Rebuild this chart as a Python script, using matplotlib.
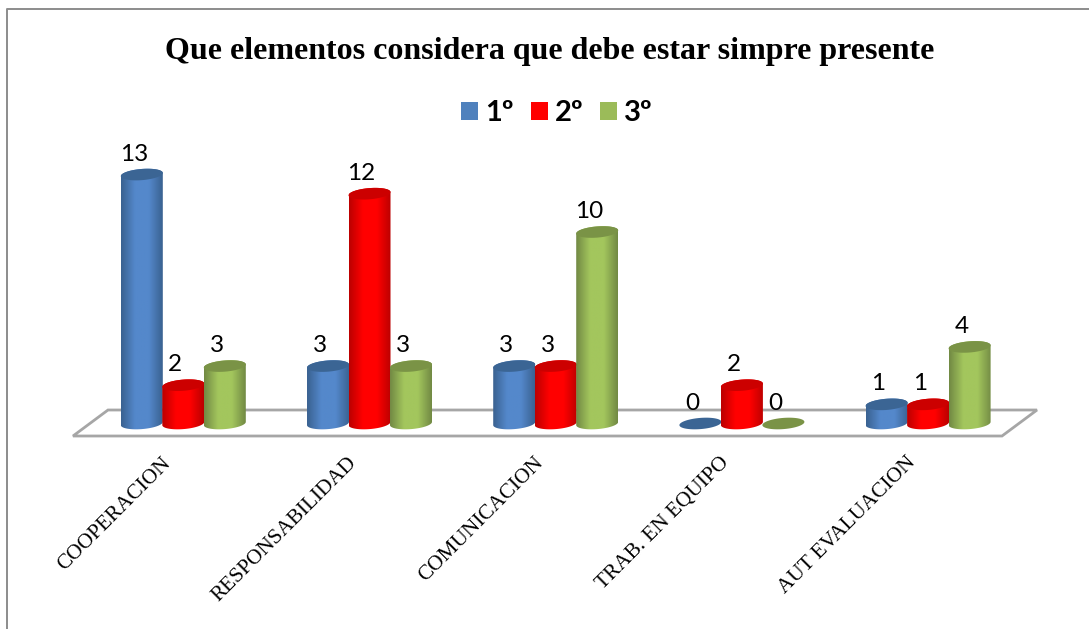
import numpy as np
import matplotlib
matplotlib.use("Agg")
import matplotlib.pyplot as plt
from matplotlib.patches import Patch, PathPatch, Polygon
from matplotlib.path import Path
from matplotlib.colors import LinearSegmentedColormap
from matplotlib.transforms import Affine2D

title = "Que elementos considera que debe estar simpre presente"
categories = ["COOPERACION", "RESPONSABILIDAD", "COMUNICACION", "TRAB. EN EQUIPO", "AUT EVALUACION"]
series_names = ["1º", "2º", "3º"]
first = [13, 3, 3, 0, 1]
second = [2, 12, 3, 2, 1]
third = [3, 3, 10, 0, 4]

W, H = 1089, 629
PX_X, PX_Y = 186.2, 19.15     # pixels per category / per unit
X0, Y0 = 183.3, 423.5         # pixel of category 0 / value 0
BAR = 41.5 / PX_X
RX = 21.0 / PX_X
RY = 5.6 / PX_Y
SHEAR = 1.6 / PX_Y
palette = [("#3A6291", "#5488CB", "#3B6594"),
           ("#BC0000", "#FF0000", "#CC0000"),
           ("#728A44", "#A3C65D", "#7A9346")]
legend_colors = ["#4F81BD", "#FF0000", "#9BBB59"]

fig = plt.figure(figsize=(W / 100, H / 100), dpi=100, facecolor="white")
ax = fig.add_axes([0, 0, 1, 1])
ax.axis("off")
px = Affine2D().scale(1, -1).translate(0, H)

# chart frame and floor
ax.plot([7, 7, W], [H, 9, 9], transform=px, color="#8C8C8C", lw=1.4, clip_on=False)
ax.add_patch(Polygon([(73, 436), (108, 410), (1037, 410), (1002, 436)], closed=True, transform=px,
                     facecolor="white", edgecolor="#A6A6A6", lw=2.0, zorder=1))

t = np.linspace(0, 2 * np.pi, 90)


def ellipse(cx, cy):
    return cx + RX * np.cos(t), cy + RY * np.sin(t) + SHEAR * np.cos(t)


def cylinder(cx, val, cols, z):
    if val > 0:
        a = t[t <= np.pi]
        b = t[t >= np.pi]
        xs = np.r_[cx + RX * np.cos(a), cx + RX * np.cos(b)]
        ys = np.r_[val + RY * np.sin(a) + SHEAR * np.cos(a), RY * np.sin(b) + SHEAR * np.cos(b)]
        body = PathPatch(Path(np.c_[xs, ys]), facecolor="none", edgecolor="none", zorder=z)
        ax.add_patch(body)
        cmap = LinearSegmentedColormap.from_list("c", [cols[0], cols[1], cols[1], cols[0]])
        grad = np.linspace(0, 1, 80)[None, :]
        im = ax.imshow(grad, cmap=cmap, extent=(cx - RX, cx + RX, -2 * RY, val + 2 * RY),
                       aspect="auto", zorder=z, interpolation="bilinear")
        im.set_clip_path(body)
    ex, ey = ellipse(cx, val)
    ax.fill(ex, ey, color=cols[2], lw=0, zorder=z + 0.01)


for s, vals in enumerate([first, second, third]):
    for c, v in enumerate(vals):
        cx = c + (s - 1) * BAR
        cylinder(cx, v, palette[s], 3 + 0.1 * s)
        ax.annotate(str(v), (cx, v), xytext=(-8 * 0.72, 20.5 * 0.72), textcoords="offset points",
                    ha="center", va="center", fontsize=17.5, family="Lato", color="black", zorder=10)

ax.set_xlim((0 - X0) / PX_X, (W - X0) / PX_X)
ax.set_ylim((Y0 - H) / PX_Y, Y0 / PX_Y)

for c, name in enumerate(categories):
    ax.annotate(name, (c, 0), xytext=(-22 * 0.72, -30 * 0.72), textcoords="offset points",
                rotation=45, rotation_mode="anchor", ha="right", va="top",
                fontsize=15.3, family="Liberation Serif", color="black")

fig.text(549.5 / W, 1 - 52 / H, title, ha="center", va="center", fontsize=23.05,
         family="Liberation Serif", weight="bold", color="black")

handles = [Patch(facecolor=col, edgecolor="none") for col in legend_colors]
fig.legend(handles, series_names, loc="center", bbox_to_anchor=(557 / W, 1 - 113 / H), ncol=3, frameon=False,
           prop={"family": "Lato", "weight": "bold", "size": 21}, handlelength=0.58, handleheight=0.58,
           handletextpad=0.24, columnspacing=0.58, borderpad=0, borderaxespad=0)

fig.savefig("out.png", dpi=100, facecolor="white")
